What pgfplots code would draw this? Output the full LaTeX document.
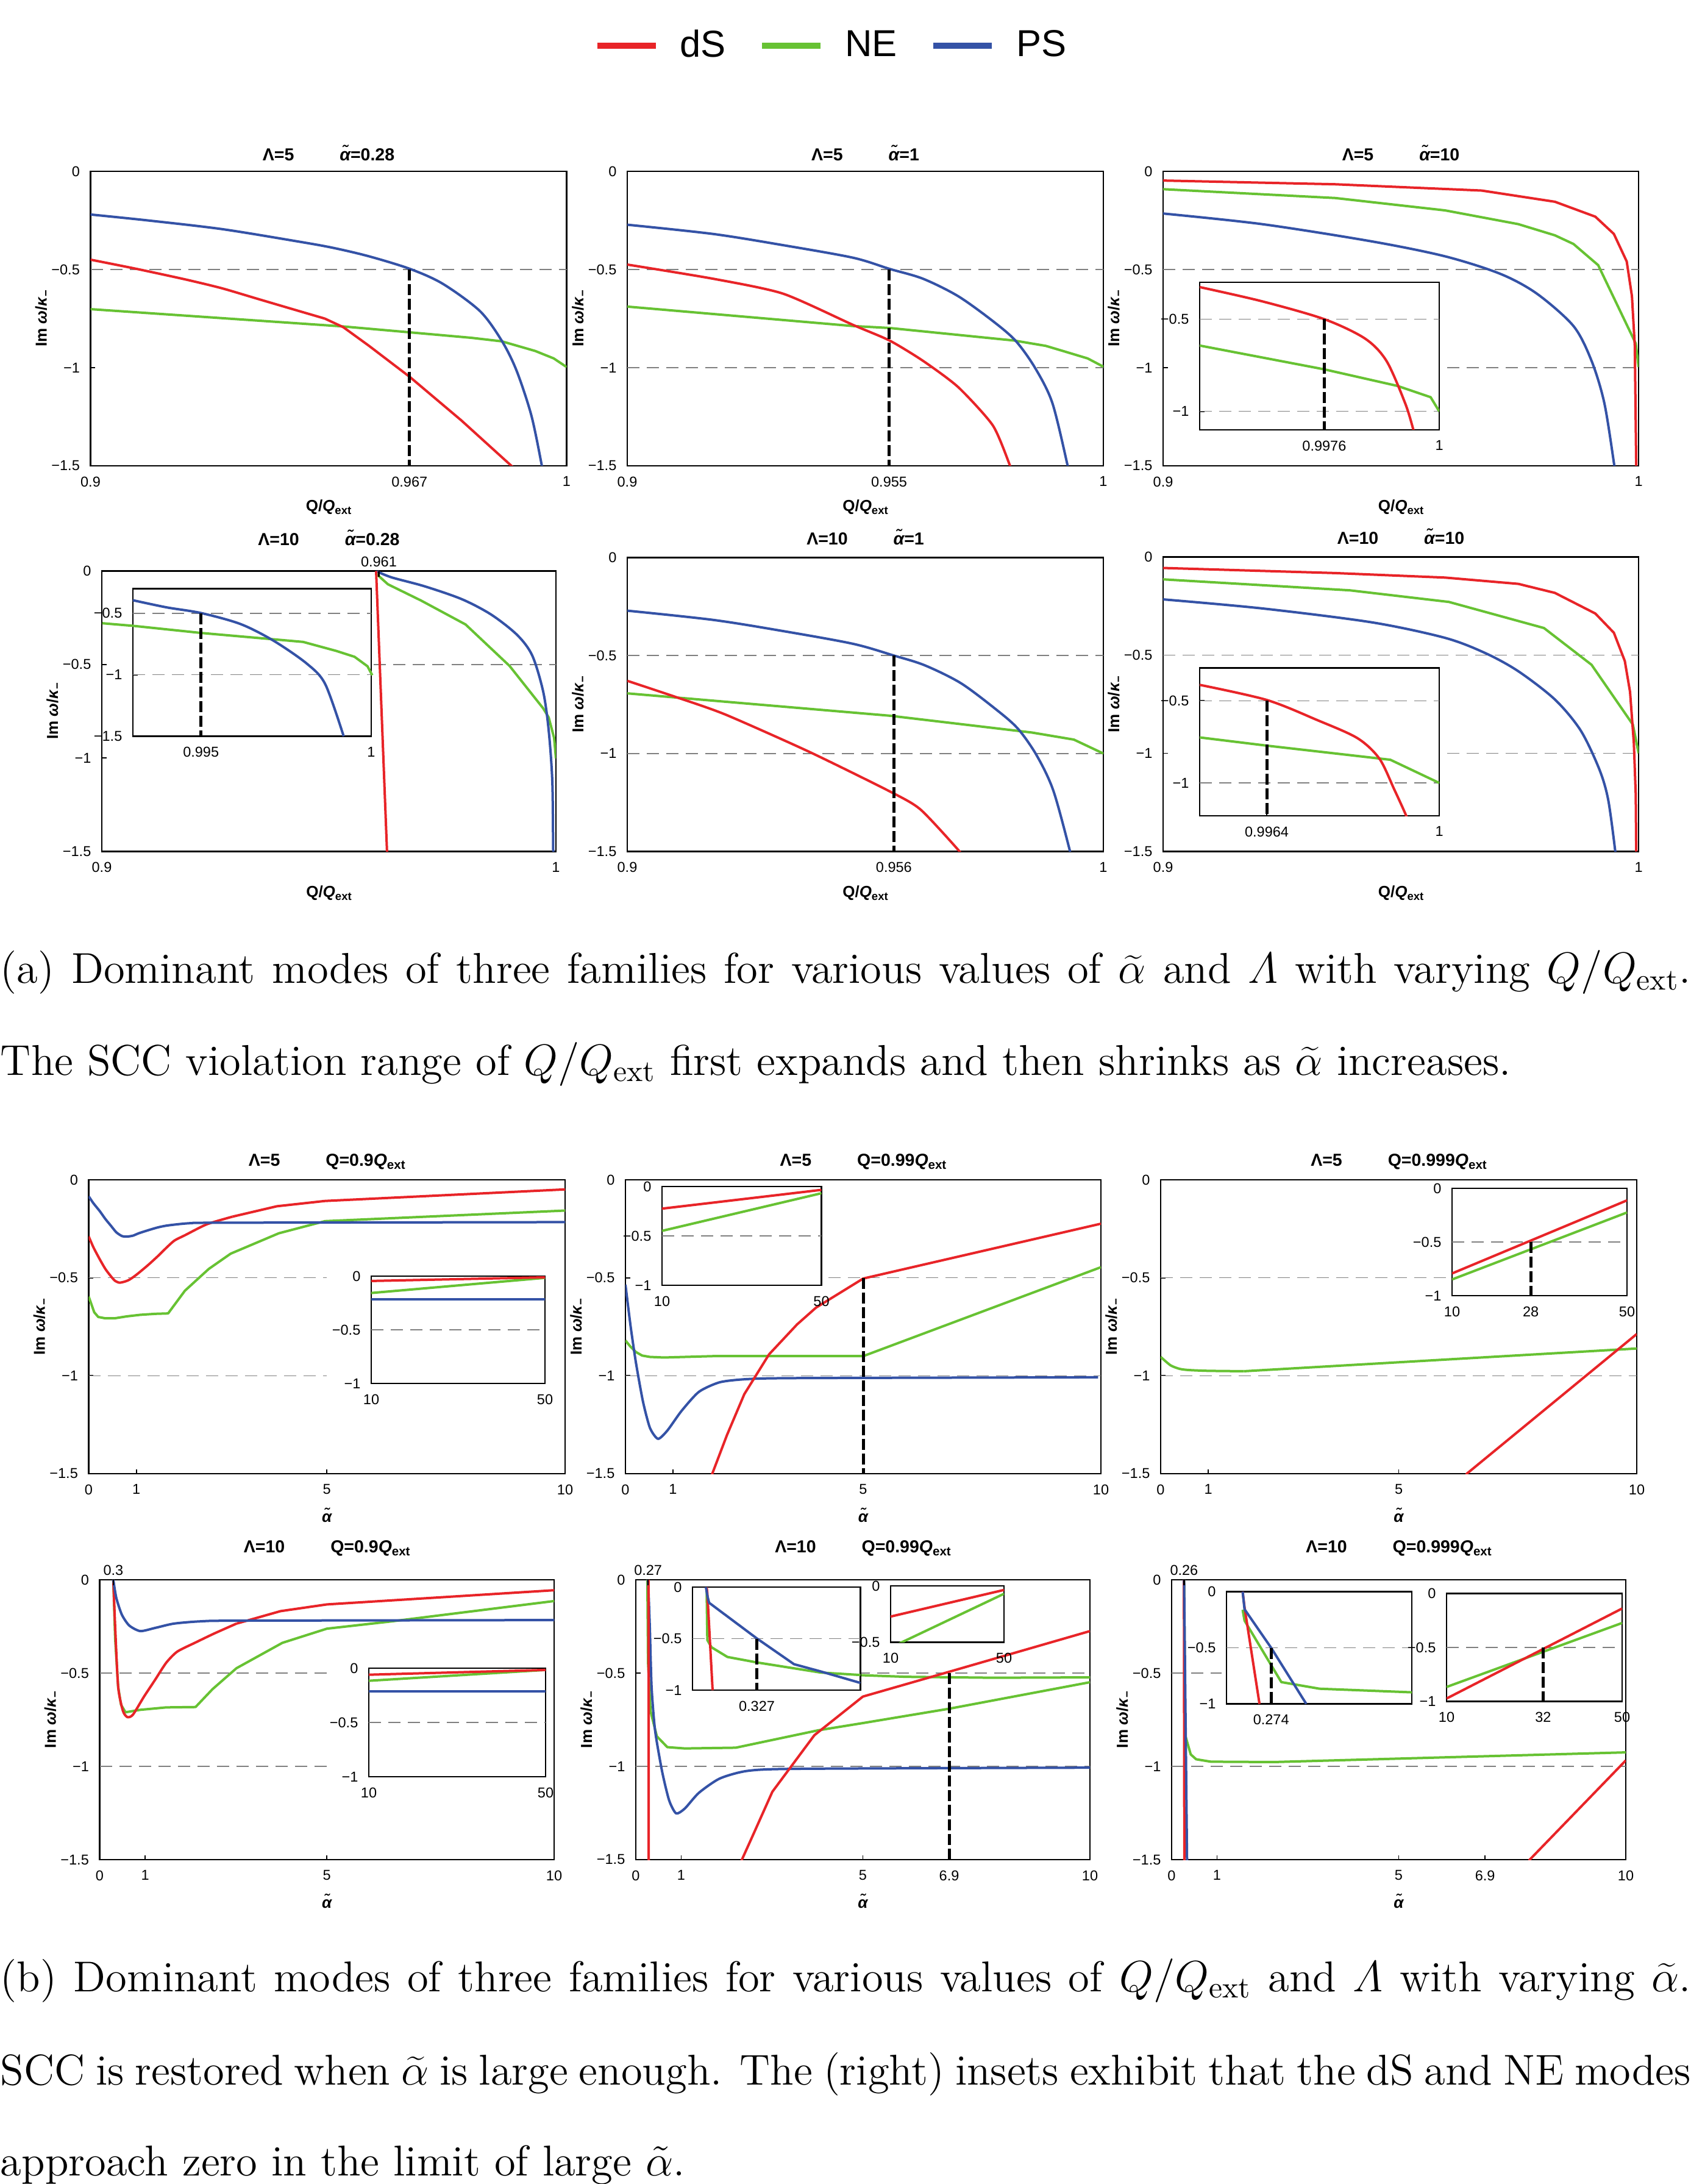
\documentclass[border=0pt]{standalone}
\usepackage{pgfplots}
\pgfplotsset{compat=1.18}
\usepackage{fontspec}
\newfontfamily\hv{Liberation Sans}
\newcommand\tk{\hv\fontsize{4.7}{5.5}\selectfont}
\newcommand\ttl{\hv\bfseries\fontsize{5.7}{6.5}\selectfont}
\newcommand\lbl{\hv\bfseries\fontsize{5.2}{6}\selectfont}
\newcommand\subl[1]{\raisebox{-0.35ex}{\fontsize{3.7}{4}\selectfont #1}}
\newcommand\subt[1]{\raisebox{-0.35ex}{\fontsize{4.1}{4.5}\selectfont #1}}
\newcommand\alt{\textit{α^^^^0303}}
\newcommand\qx{Q/\textit{Q}\subl{ext}}
\newcommand\qt[1]{Q=#1\textit{Q}\subt{ext}}
\definecolor{dsc}{RGB}{232,36,40}
\definecolor{nec}{RGB}{103,194,51}
\definecolor{psc}{RGB}{52,82,166}
\definecolor{grc}{RGB}{128,128,128}
\pgfplotsset{
 base/.style={scale only axis, clip mode=individual,
   axis line style={line width=0.45pt},
   tick pos=left, tick align=inside, major tick length=1.5pt,
   every tick/.style={black, line width=0.35pt},
   tick label style={font=\tk, text=black},
   ymin=-1.5, ymax=0,
   ytick={0,-0.5,-1,-1.5}, yticklabels={0,−0.5,−1,−1.5}},
 mainax/.style={base,
   every axis title/.style={font=\ttl, at={(0.5,1)}, anchor=center, yshift=6pt},
   every axis x label/.style={font=\lbl, at={([yshift=-13.6pt]axis description cs:0.5,0)}, anchor=center},
   every axis y label/.style={font=\lbl, at={([xshift=-15.8pt]axis description cs:0,0.5)}, anchor=center, rotate=90},
   ylabel={Im \textit{ω}/\textit{κ}\subl{−}}},
 inax/.style={base, axis background/.style={fill=white}},
 ds/.style={color=dsc, line width=0.8pt, line join=round},
 ne/.style={color=nec, line width=0.8pt, line join=round},
 ps/.style={color=psc, line width=0.8pt, line join=round},
 grd/.style={color=grc, dash pattern=on 4pt off 2.4pt, line width=0.3pt},
 vd/.style={black, dash pattern=on 3.6pt off 1.2pt, line width=1pt},
 tt/.style={black, line width=0.45pt},
}
\begin{document}
\begin{tikzpicture}
\path[use as bounding box] (0,0) rectangle (554.6pt,-716.4pt);

% ---------------- legend
\begin{axis}[at={(273.4pt,-15pt)}, anchor=center, hide axis, scale only axis,
  width=10pt, height=10pt, xmin=0, xmax=1, ymin=0, ymax=1,
  legend columns=3,
  legend style={at={(0.5,0.5)}, anchor=center, draw=none, fill=none,
    font=\hv\fontsize{12.3}{14}\selectfont,
    /tikz/every odd column/.style={column sep=5pt},
    /tikz/every even column/.style={column sep=9pt}},
  legend image code/.code={\draw[#1, line width=1.9pt] (0pt,0pt) -- (19.2pt,0pt);}]
\addlegendimage{color=dsc}\addlegendentry{dS}
\addlegendimage{color=nec}\addlegendentry{NE}
\addlegendimage{color=psc}\addlegendentry{PS}
\end{axis}

% ================= (a) row 1
\begin{axis}[mainax, at={(29.7pt,-152.8pt)}, anchor=south west, width=156.2pt, height=96.6pt,
  xmin=0.9, xmax=1, xtick={0.9,0.967,1}, xticklabels={0.9,0.967,1},
  title={Λ=5\hspace{15pt}\alt=0.28}, xlabel={\qx}]
\addplot[grd] coordinates {(0.9,-0.5) (1,-0.5)};
\addplot[ne] coordinates {(0.9,-0.702) (0.953,-0.79) (0.967,-0.82) (0.98,-0.848) (0.9864,-0.866) (0.9934,-0.915) (0.9973,-0.953) (1.0,-0.997)};
\addplot[ds, smooth, tension=0.4] coordinates {(0.9,-0.45) (0.9097,-0.497) (0.9198,-0.55) (0.9275,-0.595) (0.9353,-0.651) (0.943,-0.706) (0.9492,-0.75)};
\addplot[ds] coordinates {(0.9492,-0.75) (0.9531,-0.794) (0.9585,-0.889) (0.9671,-1.048) (0.9779,-1.269) (0.9884,-1.5) (0.99,-1.53)};
\addplot[ps, smooth, tension=0.5] coordinates {(0.9,-0.22) (0.912,-0.25) (0.9275,-0.294) (0.943,-0.355) (0.9508,-0.389) (0.9585,-0.433) (0.9671,-0.497) (0.974,-0.573) (0.9818,-0.712) (0.9864,-0.864) (0.9895,-1.016) (0.9926,-1.244) (0.9948,-1.5) (0.9953,-1.58)};
\addplot[vd] coordinates {(0.967,-0.5) (0.967,-1.5)};
\end{axis}

\begin{axis}[mainax, at={(205.8pt,-152.8pt)}, anchor=south west, width=156.2pt, height=96.6pt,
  xmin=0.9, xmax=1, xtick={0.9,0.955,1}, xticklabels={0.9,0.955,1},
  title={Λ=5\hspace{15pt}\alt=1}, xlabel={\qx}]
\addplot[grd] coordinates {(0.9,-0.5) (1,-0.5)};
\addplot[grd] coordinates {(0.9,-1) (1,-1)};
\addplot[ne] coordinates {(0.9,-0.689) (0.9474,-0.788) (0.9551,-0.798) (0.9813,-0.862) (0.9879,-0.889) (0.9915,-0.915) (0.9967,-0.953) (1.0,-0.995)};
\addplot[ds, smooth, tension=0.4] coordinates {(0.9,-0.475) (0.918,-0.547) (0.9327,-0.623) (0.9474,-0.782) (0.9551,-0.862) (0.9621,-0.965) (0.9695,-1.099) (0.9768,-1.295) (0.9804,-1.5) (0.981,-1.55)};
\addplot[ps, smooth, tension=0.5] coordinates {(0.9,-0.272) (0.918,-0.319) (0.9327,-0.376) (0.9474,-0.44) (0.9551,-0.497) (0.9621,-0.547) (0.9695,-0.636) (0.9768,-0.763) (0.9816,-0.864) (0.9857,-1.003) (0.9893,-1.181) (0.9925,-1.5) (0.993,-1.57)};
\addplot[vd] coordinates {(0.955,-0.5) (0.955,-1.5)};
\end{axis}

\begin{axis}[mainax, at={(381.6pt,-152.8pt)}, anchor=south west, width=156pt, height=96.6pt,
  xmin=0.9, xmax=1, xtick={0.9,1}, xticklabels={0.9,1},
  title={Λ=5\hspace{15pt}\alt=10}, xlabel={\qx}]
\addplot[grd] coordinates {(0.9,-0.5) (1,-0.5)};
\addplot[grd] coordinates {(0.9597,-1) (1,-1)};
\addplot[ps, smooth, tension=0.5] coordinates {(0.9,-0.215) (0.9208,-0.269) (0.9439,-0.357) (0.9593,-0.433) (0.9709,-0.522) (0.9786,-0.623) (0.9863,-0.788) (0.9901,-0.965) (0.9928,-1.181) (0.9949,-1.5) (0.9953,-1.58)};
\addplot[ne] coordinates {(0.9,-0.091) (0.9362,-0.136) (0.9593,-0.199) (0.9747,-0.269) (0.9824,-0.326) (0.9863,-0.37) (0.9915,-0.478) (0.9994,-0.877) (1.0,-0.997)};
\addplot[ds] coordinates {(0.9,-0.047) (0.9362,-0.066) (0.967,-0.098) (0.9824,-0.155) (0.9909,-0.231) (0.9948,-0.319) (0.9975,-0.459) (0.9986,-0.636) (0.9992,-0.889) (0.9995,-1.5)};
\end{axis}
\begin{axis}[inax, at={(393.6pt,-141pt)}, anchor=south west, width=78.6pt, height=48.4pt,
  xmin=0.995, xmax=1, ymin=-1.1, ymax=-0.3, xtick={0.9976,1}, xticklabels={0.9976,1},
  ytick={-0.5,-1}, yticklabels={−0.5,−1}]
\addplot[grd] coordinates {(0.995,-0.5) (1,-0.5)};
\addplot[grd] coordinates {(0.995,-1) (1,-1)};
\addplot[ne] coordinates {(0.995,-0.643) (0.9976,-0.772) (0.99913,-0.862) (0.99982,-0.923) (1.0,-1.0)};
\addplot[ds, smooth, tension=0.5] coordinates {(0.995,-0.326) (0.9963,-0.403) (0.9976,-0.5) (0.99845,-0.605) (0.9989,-0.727) (0.99929,-0.957) (0.99946,-1.1) (0.9995,-1.15)};
\addplot[vd] coordinates {(0.9976,-0.5) (0.9976,-1.1)};
\end{axis}

% ================= (a) row 2
\begin{axis}[mainax, at={(33.4pt,-279.3pt)}, anchor=south west, width=149pt, height=92pt,
  xmin=0.9, xmax=1, xtick={0.9,1}, xticklabels={0.9,1},
  title style={yshift=5pt},
  title={Λ=10\hspace{15pt}\alt=0.28}, xlabel={\qx}]
\addplot[grd] coordinates {(0.9598,-0.5) (1,-0.5)};
\addplot[ne] coordinates {(0.9604,-0.014) (0.963,-0.071) (0.9703,-0.158) (0.9801,-0.286) (0.9898,-0.508) (0.9972,-0.735) (0.9984,-0.783) (0.9996,-0.893) (1.0,-1.003)};
\addplot[ps, smooth, tension=0.5] coordinates {(0.9604,0) (0.9638,-0.034) (0.9711,-0.082) (0.9793,-0.151) (0.9858,-0.234) (0.9915,-0.343) (0.9948,-0.453) (0.9972,-0.646) (0.9984,-0.852) (0.9992,-1.126) (0.9994,-1.5) (0.9995,-1.6)};
\addplot[ds] coordinates {(0.9604,0) (0.9628,-1.5) (0.963,-1.55)};
\addplot[tt] coordinates {(0.961,0) (0.961,-0.03)};
\node[font=\tk, anchor=south, inner sep=1.2pt] at (axis cs:0.961,0) {0.961};
\end{axis}
\begin{axis}[inax, clip=false, at={(43.6pt,-241.5pt)}, anchor=south west, width=78.2pt, height=48.4pt,
  xmin=0.993, xmax=1, ymin=-1.5, ymax=-0.3, xtick={0.995,1}, xticklabels={0.995,1},
  ytick={-0.5,-1,-1.5}, yticklabels={−0.5,−1,−1.5}]
\addplot[grd] coordinates {(0.993,-0.5) (1,-0.5)};
\addplot[grd] coordinates {(0.993,-1) (1,-1)};
\addplot[ne] coordinates {(0.9921,-0.581) (0.993,-0.602) (0.995,-0.66) (0.998,-0.733) (0.99897,-0.806) (0.99951,-0.854) (0.99989,-0.931) (1.00003,-1.004)};
\addplot[ps, smooth, tension=0.5] coordinates {(0.993,-0.394) (0.99399,-0.452) (0.995,-0.498) (0.99616,-0.5875) (0.99713,-0.723) (0.99811,-0.91) (0.99865,-1.077) (0.99919,-1.5)};
\addplot[vd] coordinates {(0.995,-0.5) (0.995,-1.5)};
\end{axis}

\begin{axis}[mainax, at={(205.8pt,-279.3pt)}, anchor=south west, width=156.2pt, height=96.4pt,
  xmin=0.9, xmax=1, xtick={0.9,0.956,1}, xticklabels={0.9,0.956,1},
  title style={yshift=0.8pt},
  title={Λ=10\hspace{15pt}\alt=1}, xlabel={\qx}]
\addplot[grd] coordinates {(0.9,-0.5) (1,-0.5)};
\addplot[grd] coordinates {(0.9,-1) (1,-1)};
\addplot[ne] coordinates {(0.9,-0.693) (0.9551,-0.807) (0.985,-0.893) (0.9938,-0.929) (1.0,-1.0)};
\addplot[ds, smooth, tension=0.4] coordinates {(0.9,-0.629) (0.91,-0.71) (0.9205,-0.8) (0.9381,-0.99) (0.9551,-1.193) (0.9616,-1.286) (0.9698,-1.5) (0.971,-1.55)};
\addplot[ps, smooth, tension=0.5] coordinates {(0.9,-0.271) (0.918,-0.318) (0.9327,-0.375) (0.9474,-0.44) (0.956,-0.5) (0.9625,-0.55) (0.97,-0.64) (0.9772,-0.77) (0.982,-0.872) (0.986,-1.01) (0.9895,-1.19) (0.993,-1.5) (0.9935,-1.57)};
\addplot[vd] coordinates {(0.956,-0.5) (0.956,-1.5)};
\end{axis}

\begin{axis}[mainax, at={(381.6pt,-279.3pt)}, anchor=south west, width=156pt, height=96.6pt,
  xmin=0.9, xmax=1, xtick={0.9,1}, xticklabels={0.9,1},
  title style={yshift=0.8pt},
  title={Λ=10\hspace{15pt}\alt=10}, xlabel={\qx}]
\addplot[grd] coordinates {(0.9,-0.5) (1,-0.5)};
\addplot[grd] coordinates {(0.9597,-1) (1,-1)};
\addplot[ps, smooth, tension=0.5] coordinates {(0.9,-0.216) (0.9208,-0.262) (0.9439,-0.333) (0.9593,-0.412) (0.9678,-0.49) (0.9747,-0.582) (0.9824,-0.726) (0.9878,-0.883) (0.9917,-1.079) (0.9936,-1.236) (0.9951,-1.5) (0.9954,-1.58)};
\addplot[ne] coordinates {(0.9,-0.114) (0.9393,-0.17) (0.9601,-0.229) (0.9801,-0.362) (0.9901,-0.549) (0.9988,-0.854) (1.0,-1.0)};
\addplot[ds] coordinates {(0.9,-0.056) (0.9362,-0.082) (0.9593,-0.105) (0.9747,-0.137) (0.9824,-0.183) (0.9909,-0.288) (0.9948,-0.386) (0.9971,-0.53) (0.9982,-0.687) (0.999,-0.948) (0.9994,-1.21) (0.9995,-1.5)};
\end{axis}
\begin{axis}[inax, at={(393.6pt,-267.6pt)}, anchor=south west, width=78.6pt, height=48.5pt,
  xmin=0.995, xmax=1, ymin=-1.2, ymax=-0.3, xtick={0.9964,1}, xticklabels={0.9964,1},
  ytick={-0.5,-1}, yticklabels={−0.5,−1}]
\addplot[grd] coordinates {(0.995,-0.5) (1,-0.5)};
\addplot[grd] coordinates {(0.995,-1) (1,-1)};
\addplot[ne] coordinates {(0.995,-0.723) (0.9964,-0.773) (0.99898,-0.859) (1.0,-1.0)};
\addplot[ds, smooth, tension=0.5] coordinates {(0.995,-0.403) (0.9964,-0.495) (0.99745,-0.617) (0.99829,-0.727) (0.99875,-0.852) (0.99906,-1.039) (0.99931,-1.2) (0.99935,-1.25)};
\addplot[vd] coordinates {(0.9964,-0.5) (0.9964,-1.2)};
\end{axis}

% ================= (b) row 1
\begin{axis}[mainax, at={(29.1pt,-483.4pt)}, anchor=south west, width=156.3pt, height=96.4pt,
  xmin=0, xmax=10, xtick={0,1,5,10}, xticklabels={0,1,5,10},
  title={Λ=5\hspace{15pt}\qt{0.9}}, xlabel={\alt}]
\addplot[grd] coordinates {(0,-0.5) (5,-0.5)};
\addplot[grd] coordinates {(0,-1) (5,-1)};
\addplot[ne] coordinates {(0,-0.596) (0.116,-0.676) (0.2,-0.7) (0.349,-0.707) (0.543,-0.707) (0.8,-0.697) (1.085,-0.689) (1.4,-0.684) (1.667,-0.682) (2.02,-0.566) (2.52,-0.455) (2.98,-0.377) (3.99,-0.273) (4.96,-0.211) (10,-0.157)};
\addplot[ds, smooth, tension=0.4] coordinates {(0,-0.289) (0.1,-0.345) (0.233,-0.406) (0.35,-0.455) (0.465,-0.492) (0.55,-0.515) (0.643,-0.525) (0.75,-0.52) (0.853,-0.51) (1.0,-0.485) (1.24,-0.4365) (1.45,-0.39) (1.63,-0.347) (1.8,-0.31) (2.02,-0.283) (2.48,-0.227) (3.02,-0.188)};
\addplot[ds] coordinates {(3.02,-0.188) (3.95,-0.135) (4.96,-0.108) (10,-0.049)};
\addplot[ps, smooth, tension=0.4] coordinates {(0,-0.084) (0.1,-0.12) (0.233,-0.16) (0.35,-0.2) (0.465,-0.234) (0.58,-0.268) (0.698,-0.287) (0.8,-0.29) (0.93,-0.285) (1.05,-0.273) (1.24,-0.258) (1.45,-0.243) (1.63,-0.234) (1.9,-0.226) (2.17,-0.221) (2.79,-0.219) (10,-0.216)};
\end{axis}
\begin{axis}[inax, at={(121.8pt,-453.8pt)}, anchor=south west, width=57pt, height=35.2pt,
  xmin=10, xmax=50, ymin=-1, ymax=0, xtick={10,50}, xticklabels={10,50},
  ytick={0,-0.5,-1}, yticklabels={0,−0.5,−1}]
\addplot[grd] coordinates {(10,-0.5) (50,-0.5)};
\addplot[ps] coordinates {(10,-0.218) (50,-0.218)};
\addplot[ne] coordinates {(10,-0.157) (50,-0.016)};
\addplot[ds] coordinates {(10,-0.045) (50,-0.011)};
\end{axis}

\begin{axis}[mainax, at={(205.2pt,-483.4pt)}, anchor=south west, width=156pt, height=96.4pt,
  xmin=0, xmax=10, xtick={0,1,5,10}, xticklabels={0,1,5,10},
  title={Λ=5\hspace{15pt}\qt{0.99}}, xlabel={\alt}]
\addplot[grd] coordinates {(4.27,-0.5) (10,-0.5)};
\addplot[grd] coordinates {(0,-1) (10,-1)};
\addplot[ne] coordinates {(0,-0.82) (0.1,-0.85) (0.221,-0.879) (0.35,-0.897) (0.515,-0.904) (0.81,-0.907) (1.84,-0.9) (5.0,-0.9) (10,-0.446)};
\addplot[ps, smooth, tension=0.4] coordinates {(0,-0.535) (0.11,-0.75) (0.221,-0.934) (0.368,-1.131) (0.515,-1.266) (0.685,-1.322) (0.884,-1.279) (1.178,-1.18) (1.546,-1.082) (1.988,-1.033) (2.577,-1.017) (3.68,-1.012) (9.94,-1.008)};
\addplot[ds] coordinates {(1.75,-1.6) (1.826,-1.5) (2.135,-1.303) (2.5,-1.094) (3.02,-0.891) (3.61,-0.738) (4.01,-0.652) (5.0,-0.504) (10,-0.224)};
\addplot[vd] coordinates {(5,-0.5) (5,-1.5)};
\end{axis}
\begin{axis}[inax, at={(217.2pt,-421.6pt)}, anchor=south west, width=52.3pt, height=32.4pt,
  xmin=10, xmax=50, ymin=-1, ymax=0, xtick={10,50}, xticklabels={10,50},
  ytick={0,-0.5,-1}, yticklabels={0,−0.5,−1}]
\addplot[grd] coordinates {(10,-0.5) (50,-0.5)};
\addplot[ne] coordinates {(10,-0.449) (50,-0.068)};
\addplot[ds] coordinates {(10,-0.224) (50,-0.034)};
\end{axis}

\begin{axis}[mainax, at={(380.8pt,-483.4pt)}, anchor=south west, width=156.2pt, height=96.4pt,
  xmin=0, xmax=10, xtick={0,1,5,10}, xticklabels={0,1,5,10},
  title={Λ=5\hspace{15pt}\qt{0.999}}, xlabel={\alt}]
\addplot[grd] coordinates {(0,-0.5) (6.02,-0.5)};
\addplot[grd] coordinates {(0,-1) (10,-1)};
\addplot[ne, smooth, tension=0.4] coordinates {(0,-0.904) (0.208,-0.947) (0.4,-0.965) (0.593,-0.971) (1.0,-0.975) (1.75,-0.977)};
\addplot[ne] coordinates {(1.75,-0.977) (10,-0.861)};
\addplot[ds] coordinates {(6.35,-1.6) (6.43,-1.5) (10,-0.787)};
\end{axis}
\begin{axis}[inax, at={(476.4pt,-425pt)}, anchor=south west, width=57.4pt, height=35.2pt,
  xmin=10, xmax=50, ymin=-1, ymax=0, xtick={10,28,50}, xticklabels={10,28,50},
  ytick={0,-0.5,-1}, yticklabels={0,−0.5,−1}]
\addplot[grd] coordinates {(10,-0.5) (50,-0.5)};
\addplot[ne] coordinates {(10,-0.849) (50,-0.225)};
\addplot[ds] coordinates {(10,-0.793) (50,-0.112)};
\addplot[vd] coordinates {(28,-0.5) (28,-1)};
\end{axis}

% ================= (b) row 2
\begin{axis}[mainax, at={(32.7pt,-610pt)}, anchor=south west, width=149.1pt, height=91.8pt,
  xmin=0, xmax=10, xtick={0,1,5,10}, xticklabels={0,1,5,10},
  title style={yshift=4.4pt},
  title={Λ=10\hspace{15pt}\qt{0.9}}, xlabel={\alt}]
\addplot[grd] coordinates {(0,-0.5) (5,-0.5)};
\addplot[grd] coordinates {(0,-1) (5,-1)};
\addplot[ne] coordinates {(0.3,0) (0.341,-0.316) (0.407,-0.574) (0.47,-0.67) (0.569,-0.71) (0.894,-0.697) (1.463,-0.684) (2.11,-0.682) (2.48,-0.587) (3.01,-0.474) (4.02,-0.338) (5,-0.262) (6.42,-0.223) (10,-0.114)};
\addplot[ds, smooth, tension=0.4] coordinates {(0.3,0) (0.341,-0.252) (0.407,-0.574) (0.512,-0.703) (0.61,-0.736) (0.732,-0.723) (0.976,-0.626) (1.22,-0.536) (1.463,-0.445) (1.707,-0.385) (2.11,-0.336) (2.52,-0.288) (3.01,-0.235)};
\addplot[ds] coordinates {(3.01,-0.235) (3.98,-0.168) (5,-0.132) (10,-0.056)};
\addplot[ps, smooth, tension=0.4] coordinates {(0.3,0) (0.366,-0.097) (0.488,-0.187) (0.65,-0.245) (0.894,-0.275) (1.22,-0.258) (1.63,-0.235) (2.2,-0.223) (3.09,-0.219) (10,-0.216)};
\addplot[tt] coordinates {(0.3,0) (0.3,-0.03)};
\node[font=\tk, anchor=south, inner sep=1.2pt] at (axis cs:0.3,0) {0.3};
\end{axis}
\begin{axis}[inax, at={(121pt,-582.8pt)}, anchor=south west, width=58pt, height=35.6pt,
  xmin=10, xmax=50, ymin=-1, ymax=0, xtick={10,50}, xticklabels={10,50},
  ytick={0,-0.5,-1}, yticklabels={0,−0.5,−1}]
\addplot[grd] coordinates {(10,-0.5) (50,-0.5)};
\addplot[ps] coordinates {(10,-0.216) (50,-0.216)};
\addplot[ne] coordinates {(10,-0.116) (50,-0.016)};
\addplot[ds] coordinates {(10,-0.06) (50,-0.016)};
\end{axis}

\begin{axis}[mainax, at={(208.6pt,-610pt)}, anchor=south west, width=149pt, height=91.8pt,
  xmin=0, xmax=10, xtick={0,1,5,6.9,10}, xticklabels={0,1,5,6.9,10},
  title style={yshift=4.4pt},
  title={Λ=10\hspace{15pt}\qt{0.99}}, xlabel={\alt}]
\addplot[grd] coordinates {(4.88,-0.5) (10,-0.5)};
\addplot[grd] coordinates {(0,-1) (10,-1)};
\addplot[ne] coordinates {(4.8,-0.51) (5.94,-0.52) (7.86,-0.525) (10,-0.523)};
\addplot[ne] coordinates {(0.254,0) (0.27,-0.445) (0.324,-0.703) (0.463,-0.839) (0.694,-0.897) (1.08,-0.904) (2.2,-0.9) (4.01,-0.807) (5,-0.768) (6.9,-0.691) (10,-0.549)};
\addplot[ps, smooth, tension=0.4] coordinates {(0.27,0) (0.308,-0.252) (0.347,-0.574) (0.424,-0.807) (0.578,-1.026) (0.732,-1.181) (0.887,-1.252) (1.079,-1.226) (1.388,-1.142) (1.85,-1.065) (2.467,-1.024) (3.62,-1.013) (10,-1.007)};
\addplot[ds] coordinates {(0.28,0) (0.285,-1.5) (0.286,-1.55)};
\addplot[ds] coordinates {(2.3,-1.55) (2.336,-1.5) (2.544,-1.388) (3.007,-1.136) (3.932,-0.833) (5.0,-0.626) (6.9,-0.493) (10,-0.275)};
\addplot[vd] coordinates {(6.9,-0.5) (6.9,-1.5)};
\addplot[tt] coordinates {(0.27,0) (0.27,-0.03)};
\node[font=\tk, anchor=south, inner sep=1.2pt] at (axis cs:0.27,0) {0.27};
\end{axis}
\begin{axis}[inax, at={(227.2pt,-554.4pt)}, anchor=south west, width=55.1pt, height=33.8pt,
  xmin=0.255, xmax=0.443, ymin=-1, ymax=0, xtick={0.327}, xticklabels={0.327},
  ytick={0,-0.5,-1}, yticklabels={0,−0.5,−1}]
\addplot[grd] coordinates {(0.255,-0.5) (0.443,-0.5)};
\addplot[ne] coordinates {(0.2708,-0.012) (0.2716,-0.514) (0.2763,-0.584) (0.2941,-0.678) (0.327,-0.731) (0.3983,-0.829) (0.443,-0.853)};
\addplot[ds] coordinates {(0.2708,0) (0.2716,-0.058) (0.2775,-1.0)};
\addplot[ps] coordinates {(0.27,0) (0.2716,-0.082) (0.2736,-0.152) (0.327,-0.498) (0.3686,-0.748) (0.3983,-0.818) (0.443,-0.93)};
\addplot[vd] coordinates {(0.327,-0.5) (0.327,-1)};
\end{axis}
\begin{axis}[inax, at={(292.2pt,-538.7pt)}, anchor=south west, width=37.2pt, height=18.5pt,
  xmin=10, xmax=50, ymin=-0.5, ymax=0, xtick={10,50}, xticklabels={10,50},
  ytick={0,-0.5}, yticklabels={0,−0.5}]
\addplot[ne] coordinates {(10,-0.547) (50,-0.07)};
\addplot[ds] coordinates {(10,-0.272) (50,-0.036)};
\end{axis}

\begin{axis}[mainax, at={(384.4pt,-610pt)}, anchor=south west, width=149pt, height=91.8pt,
  xmin=0, xmax=10, xtick={0,1,5,6.9,10}, xticklabels={0,1,5,6.9,10},
  title style={yshift=4.4pt},
  title={Λ=10\hspace{15pt}\qt{0.999}}, xlabel={\alt}]
\addplot[grd] coordinates {(0,-0.5) (1.1,-0.5)};
\addplot[grd] coordinates {(0,-1) (10,-1)};
\addplot[ne] coordinates {(0.274,0) (0.299,-0.833) (0.42,-0.936) (0.54,-0.962) (0.864,-0.975) (2.24,-0.977) (10,-0.925)};
\addplot[ds] coordinates {(0.27,0) (0.28,-1.5) (0.281,-1.55)};
\addplot[ps] coordinates {(0.274,0) (0.339,-1.5) (0.342,-1.56)};
\addplot[ds] coordinates {(7.8,-1.56) (7.885,-1.5) (10,-0.968)};
\addplot[tt] coordinates {(0.274,0) (0.274,-0.03)};
\node[font=\tk, anchor=south, inner sep=1.2pt] at (axis cs:0.274,0) {0.26};
\end{axis}
\begin{axis}[inax, at={(402.4pt,-558.9pt)}, anchor=south west, width=60.8pt, height=36.8pt,
  xmin=0.2552, xmax=0.3333, ymin=-1, ymax=0, xtick={0.274}, xticklabels={0.274},
  ytick={0,-0.5,-1}, yticklabels={0,−0.5,−1}]
\addplot[grd] coordinates {(0.2552,-0.5) (0.3333,-0.5)};
\addplot[ne] coordinates {(0.262,-0.161) (0.2628,-0.258) (0.2783,-0.806) (0.2944,-0.865) (0.3333,-0.897)};
\addplot[ds] coordinates {(0.262,0) (0.2628,-0.14) (0.2691,-1.0)};
\addplot[ps] coordinates {(0.262,0) (0.2628,-0.157) (0.274,-0.5) (0.2888,-1.0)};
\addplot[vd] coordinates {(0.274,-0.5) (0.274,-1)};
\end{axis}
\begin{axis}[inax, at={(474.6pt,-558.1pt)}, anchor=south west, width=57.6pt, height=35.4pt,
  xmin=10, xmax=50, ymin=-1, ymax=0, xtick={10,32,50}, xticklabels={10,32,50},
  ytick={0,-0.5,-1}, yticklabels={0,−0.5,−1}]
\addplot[grd] coordinates {(10,-0.5) (50,-0.5)};
\addplot[ne] coordinates {(10,-0.866) (50,-0.273)};
\addplot[ds] coordinates {(10,-0.973) (50,-0.139)};
\addplot[vd] coordinates {(32,-0.5) (32,-1)};
\end{axis}

% ================= captions
\begin{scope}[every node/.style={anchor=base west, inner sep=0pt, font=\fontsize{14.15}{17}\selectfont}]
\node at (0pt,-322.5pt) {\makebox[554.6pt][s]{(a) Dominant modes of three families for various values of $\widetilde{\alpha}$ and $\mathnormal{\Lambda}$ with varying $Q/Q_{\mathrm{ext}}$.}};
\node at (0pt,-352.6pt) {The SCC violation range of $Q/Q_{\mathrm{ext}}$ first expands and then shrinks as $\widetilde{\alpha}$ increases.};
\node at (0pt,-653.2pt) {\makebox[554.6pt][s]{(b) Dominant modes of three families for various values of $Q/Q_{\mathrm{ext}}$ and $\mathnormal{\Lambda}$ with varying $\widetilde{\alpha}$.}};
\node at (0pt,-683.8pt) {\makebox[554.6pt][s]{SCC is restored when $\widetilde{\alpha}$ is large enough. The (right) insets exhibit that the dS and NE modes}};
\node at (0pt,-713.6pt) {approach zero in the limit of large $\tilde{\alpha}$.};
\end{scope}
\end{tikzpicture}
\end{document}
